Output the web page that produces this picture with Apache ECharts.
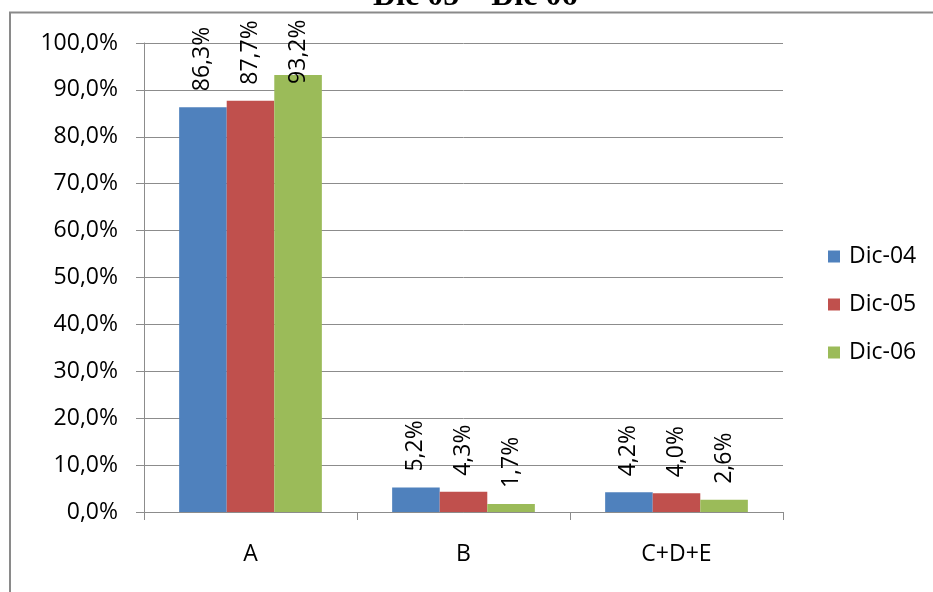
<!DOCTYPE html>
<html>
<head>
<meta charset="utf-8">
<script src="https://cdn.jsdelivr.net/npm/echarts@6/dist/echarts.min.js"></script>
<style>
  html, body { margin: 0; padding: 0; background: #ffffff; }
  #chart { width: 933px; height: 592px; }
</style>
</head>
<body>
<div id="chart"></div>
<script>
// Categories and yearly shares (percent)
var categories = ['A', 'B', 'C+D+E'];
var seriesNames = ['Dic-04', 'Dic-05', 'Dic-06'];
var dic04 = [86.3, 5.2, 4.2];
var dic05 = [87.7, 4.3, 4.0];
var dic06 = [93.2, 1.7, 2.6];
var titleText = 'Dic 05 \u2013 Dic 06';

var colors = ['#4F81BD', '#C0504D', '#9BBB59'];
var font = '"Open Sans", "Noto Sans", sans-serif';
var gridColor = '#8c8c8c';

function fmt(v) {
  return v.toFixed(1).replace('.', ',') + '%';
}

function makeSeries(name, values, color) {
  return {
    name: name,
    type: 'bar',
    data: values.map(function (v) {
      // the tallest bar's label is pulled down (along its rotated text axis)
      // so it stays inside the chart
      if (v > 90) {
        return { value: v, label: { offset: [-25, 0] } };
      }
      return v;
    }),
    barGap: '0%',
    barCategoryGap: '33%',
    itemStyle: { color: color },
    label: {
      show: true,
      position: 'top',
      rotate: 90,
      align: 'left',
      verticalAlign: 'middle',
      distance: 16,
      fontFamily: font,
      fontSize: 23,
      color: '#000',
      formatter: function (p) { return fmt(p.value); }
    }
  };
}

var chart = echarts.init(document.getElementById('chart'), null, { renderer: 'canvas' });
chart.setOption({
  animation: false,
  backgroundColor: '#ffffff',
  grid: { left: 144, right: 150, top: 43, bottom: 80, containLabel: false },
  xAxis: {
    type: 'category',
    data: categories,
    axisLine: { lineStyle: { color: gridColor, width: 1 } },
    axisTick: { show: true, length: 8, lineStyle: { color: gridColor } },
    axisLabel: { fontFamily: font, fontSize: 23, color: '#000', margin: 31 }
  },
  yAxis: {
    type: 'value',
    min: 0,
    max: 100,
    interval: 10,
    axisLine: { show: true, lineStyle: { color: gridColor, width: 1 } },
    axisTick: { show: true, length: 8, lineStyle: { color: gridColor } },
    splitLine: { lineStyle: { color: gridColor, width: 1 } },
    axisLabel: {
      fontFamily: font, fontSize: 23, color: '#000', margin: 26,
      formatter: function (v) { return fmt(v); }
    }
  },
  legend: {
    orient: 'vertical',
    left: 828,
    top: 245,
    padding: 0,
    itemWidth: 12,
    itemHeight: 12,
    itemGap: 25,
    icon: 'rect',
    textStyle: { fontFamily: font, fontSize: 23, color: '#000', padding: [0, 0, 0, 4] },
    data: seriesNames
  },
  series: [
    makeSeries(seriesNames[0], dic04, colors[0]),
    makeSeries(seriesNames[1], dic05, colors[1]),
    makeSeries(seriesNames[2], dic06, colors[2])
  ],
  graphic: [
    {
      type: 'text',
      x: 373,
      y: 13,
      z: 100,
      style: {
        text: titleText,
        fontFamily: '"Liberation Serif", "DejaVu Serif", serif',
        fontWeight: 'bold',
        fontSize: 32,
        fill: '#000',
        verticalAlign: 'bottom'
      }
    },
    {
      type: 'rect',
      shape: { x: 0, y: 12, width: 933, height: 4 },
      style: { fill: '#ffffff' },
      z: 101
    },
    {
      type: 'line',
      shape: { x1: 9, y1: 12.5, x2: 933, y2: 12.5 },
      style: { stroke: '#8a8a8a', lineWidth: 2 },
      z: 102
    },
    {
      type: 'line',
      shape: { x1: 10, y1: 12, x2: 10, y2: 592 },
      style: { stroke: '#8a8a8a', lineWidth: 2 },
      z: 102
    }
  ]
});
</script>
</body>
</html>
